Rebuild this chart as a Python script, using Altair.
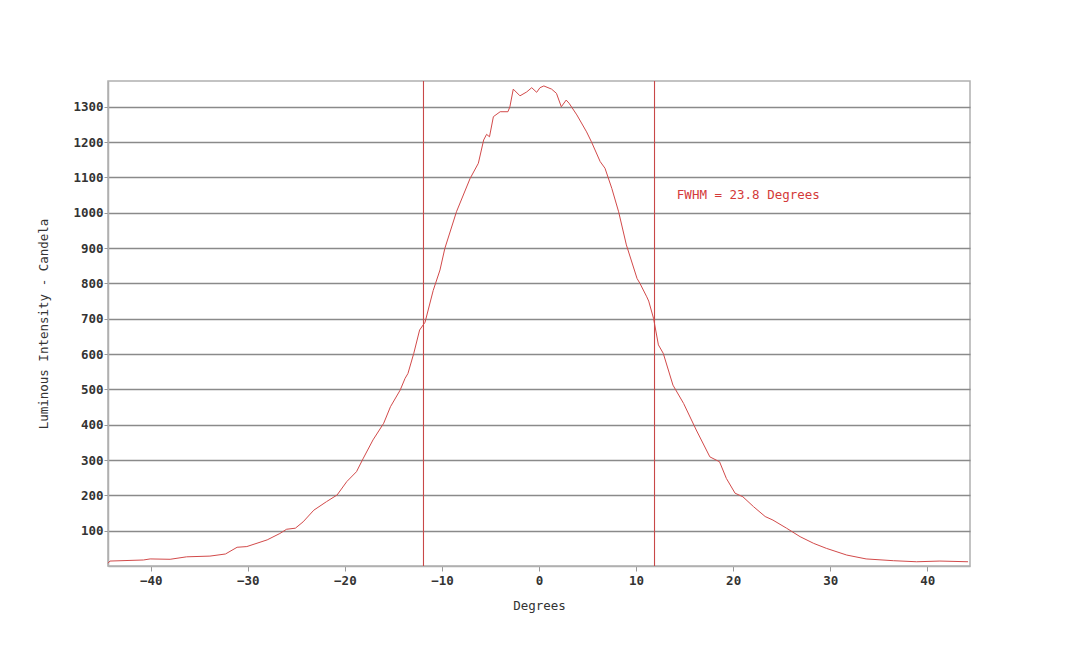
import altair as alt
import pandas as pd

# ---- data ----
degrees = [-44.4, -44.2, -40.75, -40.06, -38.0, -36.3, -33.9, -32.3, -31.1, -30.1,
           -28.0, -26.7, -26.0, -25.1, -24.3, -23.2, -21.9, -20.8, -19.8, -18.8,
           -18.1, -17.1, -16.0, -15.3, -14.3, -13.8, -13.5, -12.9, -12.3, -11.74,
           -10.9, -10.2, -9.7, -8.5, -7.1, -6.25, -5.7, -5.4, -5.1, -4.7,
           -4.0, -3.2, -3.0, -2.65, -1.96, -1.27, -0.75, -0.24, 0.1, 0.5,
           1.3, 1.8, 2.3, 2.8, 3.1, 3.9, 4.9, 5.4, 6.3, 6.8,
           7.5, 8.2, 9.0, 10.1, 10.4, 11.1, 11.3, 11.8, 12.3, 12.8,
           13.8, 14.9, 16.2, 17.6, 18.6, 19.3, 20.2, 21.0, 22.1, 23.3,
           24.1, 25.5, 26.9, 28.3, 29.6, 31.7, 33.7, 36.5, 38.9, 41.3, 44.2]
intensity = [8, 14, 17, 20, 19, 26, 28, 34, 53, 55,
             74, 92, 104, 107, 125, 158, 182, 201, 239, 267,
             305, 357, 404, 451, 498, 531, 545, 602, 668, 690,
             780, 838, 899, 1003, 1097, 1140, 1206, 1222, 1215, 1272,
             1286, 1286, 1300, 1350, 1331, 1342, 1354, 1341, 1354, 1359,
             1350, 1338, 1300, 1319, 1310, 1277, 1229, 1201, 1145, 1126,
             1069, 1003, 909, 814, 800, 762, 750, 701, 626, 602,
             512, 460, 385, 309, 295, 248, 206, 196, 168, 140,
             130, 107, 83, 64, 50, 31, 20, 15, 12, 14, 12]
fwhm_edges = [-11.9, 11.9]
annotation_text = ["FWHM = 23.8 Degrees"]
annotation_x = [14.2]
annotation_y = [1050]
x_ticks = [-40, -30, -20, -10, 0, 10, 20, 30, 40]
y_ticks = [100, 200, 300, 400, 500, 600, 700, 800, 900, 1000, 1100, 1200, 1300]

FONT = "DejaVu Sans Mono"
RED_LINE = "#d24a4a"
RED_RULE = "#c84848"
RED_TEXT = "#d43a3a"

curve = pd.DataFrame({"deg": degrees, "val": intensity})
rules_df = pd.DataFrame({"deg": fwhm_edges})
text_df = pd.DataFrame({"deg": annotation_x, "val": annotation_y, "label": annotation_text})

x_scale = alt.Scale(domain=[-44.4, 44.4], nice=False, zero=False)
y_scale = alt.Scale(domain=[0, 1373], nice=False, zero=False)

line = alt.Chart(curve).mark_line(color=RED_LINE, strokeWidth=1).encode(
    x=alt.X("deg:Q", scale=x_scale,
            axis=alt.Axis(values=x_ticks, title="Degrees", grid=False, format="d",
                          tickSize=5, labelPadding=3, titlePadding=13)),
    y=alt.Y("val:Q", scale=y_scale,
            axis=alt.Axis(values=y_ticks, title="Luminous Intensity - Candela", format="d",
                          grid=True, tickSize=4, labelPadding=1, titlePadding=22)),
)

rules = alt.Chart(rules_df).mark_rule(strokeWidth=1.1, opacity=1).encode(
    x=alt.X("deg:Q", scale=x_scale),
    color=alt.value(RED_RULE),
)

text = alt.Chart(text_df).mark_text(
    align="left", baseline="middle", color=RED_TEXT, font=FONT, fontSize=12.5
).encode(
    x=alt.X("deg:Q", scale=x_scale),
    y=alt.Y("val:Q", scale=y_scale),
    text="label:N",
)

chart = alt.layer(rules, line, text).properties(
    width=862,
    height=485,
    background="white",
    autosize=alt.AutoSizeParams(type="none"),
    padding={"left": 100, "top": 73, "right": 100, "bottom": 70},
).configure_view(
    stroke="#b0b0b0", strokeWidth=1.5
).configure_axis(
    domainColor="#b0b0b0", domainWidth=1.5,
    tickColor="#999999", tickWidth=1,
    gridColor="#8a8a8a", gridWidth=1.3,
    labelFont=FONT, labelFontSize=12.5, labelColor="#333333", labelFontWeight="bold",
    titleFont=FONT, titleFontSize=12.5, titleColor="#333333", titleFontWeight="normal",
)

chart.save("out.html", embed_options={"renderer": "svg", "actions": False})
